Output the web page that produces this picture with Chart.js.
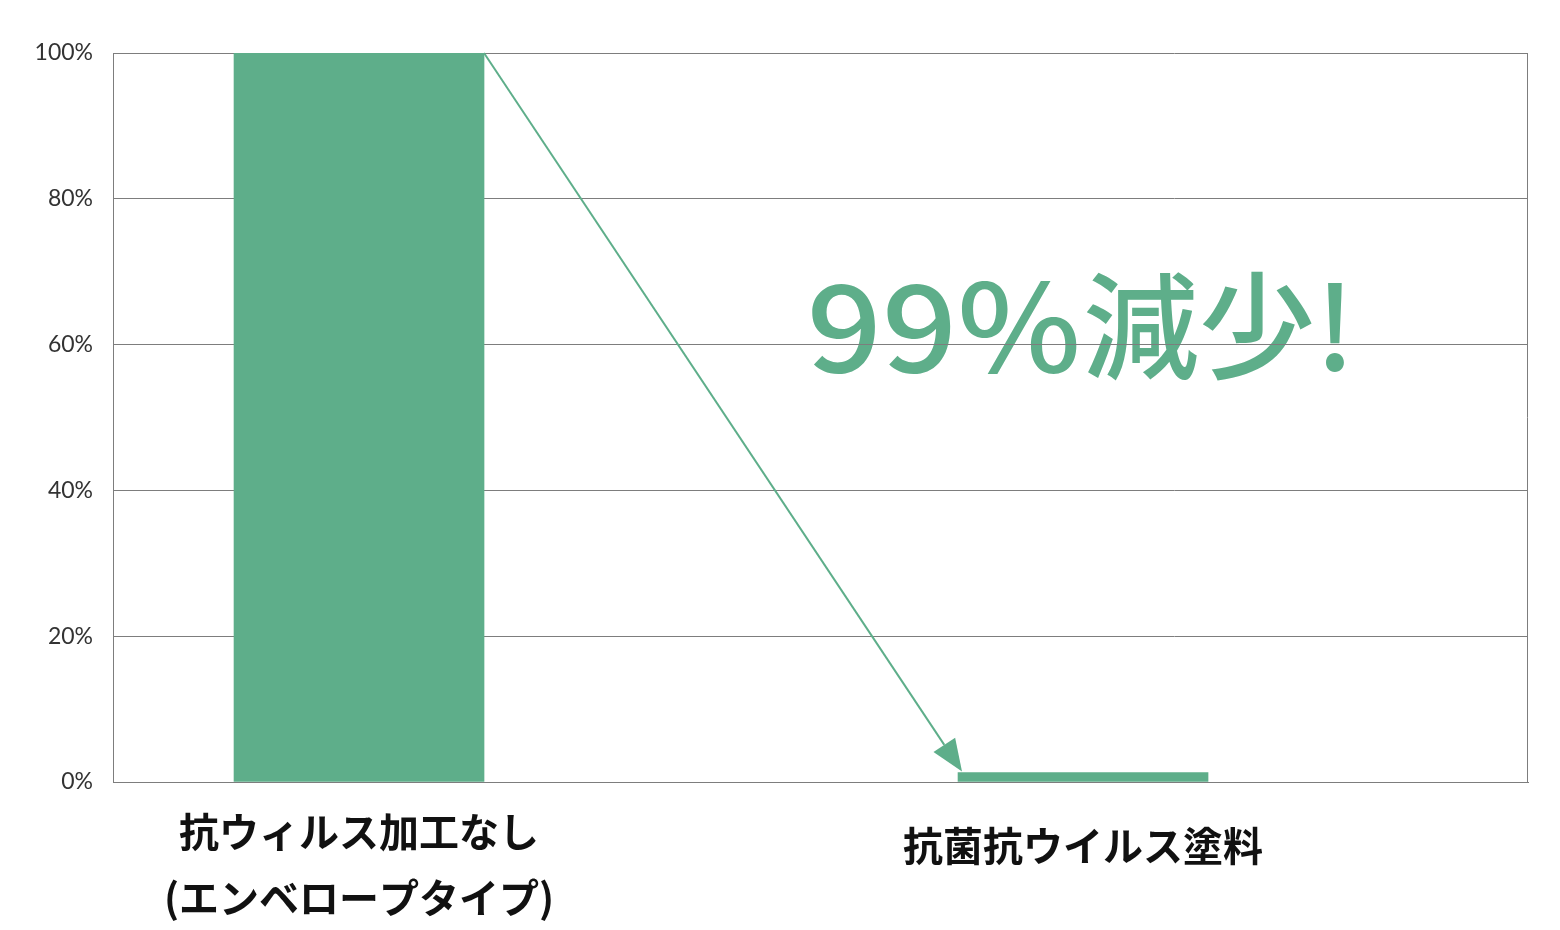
<!DOCTYPE html>
<html>
<head>
<meta charset="utf-8">
<script src="https://cdn.jsdelivr.net/npm/chart.js@4/dist/chart.umd.min.js"></script>
<style>
html,body{margin:0;padding:0;background:#ffffff;}
#wrap{width:1560px;height:930px;position:relative;}
</style>
</head>
<body>
<div id="wrap"><canvas id="c"></canvas></div>
<script>
// ---- data ----
const categories = [['抗ウィルス加工なし', '(エンベロープタイプ)'], '抗菌抗ウイルス塗料'];
const positions = [0, 1];
const values = [100, 1.3];
const yTicks = [0, 20, 40, 60, 80, 100];
const annotationParts = ['99%', '減少!'];
const annotationPos = [1, 62.5];

const GREEN = '#5eae8a';
const GRID = '#7d7d7d';

const points = positions.map((p, i) => ({ x: p, y: values[i] }));

const decorPlugin = {
  id: 'decor',
  beforeDraw(chart) {
    const { ctx } = chart;
    const xs = chart.scales.x, ys = chart.scales.y;
    const cx = xs.getPixelForValue(annotationPos[0]);
    const cy = ys.getPixelForValue(annotationPos[1]);
    ctx.save();
    ctx.fillStyle = GREEN;
    ctx.textBaseline = 'middle';
    // latin part, slightly widened like the geometric face of the original
    ctx.save();
    ctx.translate(cx - 2, cy);
    ctx.scale(1.09, 1);
    ctx.font = '500 121px "Noto Sans CJK JP"';
    ctx.textAlign = 'right';
    ctx.fillText(annotationParts[0], 0, 0);
    ctx.restore();
    ctx.font = '500 116px "Noto Sans CJK JP"';
    ctx.textAlign = 'left';
    ctx.fillText(annotationParts[1], cx, cy);
    ctx.restore();
  },
  afterDraw(chart) {
    const { ctx, chartArea } = chart;
    ctx.save();
    ctx.strokeStyle = GRID;
    ctx.lineWidth = 1;
    ctx.beginPath();
    ctx.moveTo(Math.round(chartArea.right) - 0.5, chartArea.top);
    ctx.lineTo(Math.round(chartArea.right) - 0.5, chartArea.bottom);
    ctx.stroke();

    // arrow from top-right of bar 1 to top-left of bar 2
    const meta = chart.getDatasetMeta(0);
    const a = meta.data[0], b = meta.data[1];
    const x1 = a.x + a.width / 2, y1 = a.y;
    const x2 = b.x - b.width / 2 + 4, y2 = b.y - 1;
    const ang = Math.atan2(y2 - y1, x2 - x1);
    const headLen = 32, headHalf = 13;
    const bx = x2 - headLen * Math.cos(ang), by = y2 - headLen * Math.sin(ang);
    ctx.strokeStyle = GREEN;
    ctx.fillStyle = GREEN;
    ctx.lineWidth = 2;
    ctx.beginPath();
    ctx.moveTo(x1, y1);
    ctx.lineTo(bx, by);
    ctx.stroke();
    ctx.beginPath();
    ctx.moveTo(x2, y2);
    ctx.lineTo(bx + headHalf * Math.sin(ang), by - headHalf * Math.cos(ang));
    ctx.lineTo(bx - headHalf * Math.sin(ang), by + headHalf * Math.cos(ang));
    ctx.closePath();
    ctx.fill();
    ctx.restore();
  }
};

new Chart(document.getElementById('c'), {
  type: 'bar',
  data: {
    datasets: [{
      data: points,
      backgroundColor: GREEN,
      borderWidth: 0,
      barThickness: 250
    }]
  },
  options: {
    responsive: true,
    maintainAspectRatio: false,
    animation: false,
    devicePixelRatio: 1,
    layout: { padding: { top: 53, right: 32, bottom: 0, left: 0 } },
    plugins: { legend: { display: false }, tooltip: { enabled: false } },
    scales: {
      x: {
        type: 'linear',
        offset: false,
        bounds: 'ticks',
        min: -0.3398,
        max: 1.6146,
        grid: { display: false, offset: false },
        border: { display: true, color: GRID, width: 1 },
        afterBuildTicks: s => { s.ticks = positions.map(v => ({ value: v })); },
        afterFit: s => { s.height = 148; s.paddingLeft = 0; s.paddingRight = 0; s.paddingTop = 0; s.paddingBottom = 0; },
        ticks: {
          autoSkip: false,
          maxRotation: 0,
          minRotation: 0,
          padding: 9,
          color: '#111111',
          font: ctx => ({
            family: '"Noto Sans CJK JP"',
            size: 40,
            weight: 'bold',
            lineHeight: ctx.index === 1 ? 2.35 : 1.65
          }),
          callback: (v) => {
            const i = positions.indexOf(v);
            return i >= 0 ? categories[i] : '';
          }
        }
      },
      y: {
        min: 0,
        max: 100,
        grid: { color: GRID, lineWidth: 1, drawTicks: false },
        border: { display: true, color: GRID, width: 1 },
        afterBuildTicks: s => { s.ticks = yTicks.map(v => ({ value: v })); },
        afterFit: s => { s.width = 113; s.paddingTop = 0; s.paddingBottom = 0; s.paddingLeft = 0; s.paddingRight = 0; },
        ticks: {
          padding: 20,
          color: '#333333',
          font: { family: 'Lato', size: 23 },
          callback: v => v + '%'
        }
      }
    }
  },
  plugins: [decorPlugin]
});
</script>
</body>
</html>
